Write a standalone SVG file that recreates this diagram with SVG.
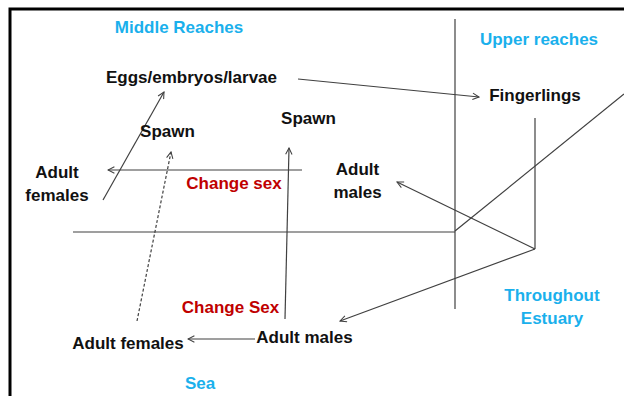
<svg xmlns="http://www.w3.org/2000/svg" width="624" height="396" viewBox="0 0 624 396">
<style>
text{font-family:"Liberation Sans",Arial,sans-serif;font-weight:bold;font-size:17px;text-anchor:middle}
.k{fill:#111}
.b{fill:#1AB0EC}
.r{fill:#C00000}
.ln{stroke:#404040;stroke-width:1.2;fill:none}
.ar{marker-end:url(#ah)}
.ds{stroke-dasharray:3 2}
</style>
<defs>
<marker id="ah" viewBox="0 0 10 10" refX="9" refY="5" markerWidth="8" markerHeight="8" markerUnits="userSpaceOnUse" orient="auto">
<path d="M1,1 L9,5 L1,9" fill="none" stroke="#404040" stroke-width="1.3"/>
</marker>
</defs>
<rect width="624" height="396" fill="#fff"/>
<path d="M10,396 L10,9 L624,9" fill="none" stroke="#000" stroke-width="3"/>
<g id="connectors">
<line class="ln" x1="73" y1="232" x2="455" y2="232"/>
<line class="ln" x1="455" y1="19" x2="455" y2="309"/>
<line class="ln" x1="455" y1="231" x2="624" y2="94"/>
<line class="ln" x1="535" y1="118" x2="535" y2="249"/>
<line class="ln ar" x1="298" y1="79" x2="479" y2="97"/>
<line class="ln ar" x1="103" y1="200" x2="164" y2="92"/>
<line class="ln ar ds" x1="137" y1="321" x2="171" y2="152"/>
<line class="ln ar" x1="285" y1="319" x2="289" y2="148"/>
<line class="ln ar" x1="302" y1="170" x2="108" y2="170"/>
<line class="ln ar" x1="535" y1="249" x2="397" y2="182"/>
<line class="ln ar" x1="535" y1="249" x2="340" y2="321"/>
<line class="ln ar" x1="255" y1="339" x2="188" y2="339"/>
</g>
<g id="middle-reaches"><text class="b" x="179" y="33">Middle Reaches</text></g>
<g id="upper-reaches"><text class="b" x="539" y="45">Upper reaches</text></g>
<g id="eggs"><text class="k" x="191.5" y="83">Eggs/embryos/larvae</text></g>
<g id="fingerlings"><text class="k" x="535" y="101">Fingerlings</text></g>
<g id="spawn1"><text class="k" x="167.5" y="137">Spawn</text></g>
<g id="spawn2"><text class="k" x="308.5" y="124">Spawn</text></g>
<g id="adult-females-mid"><text class="k" x="57" y="178">Adult</text><text class="k" x="57" y="201">females</text></g>
<g id="change-sex-mid"><text class="r" x="234" y="189">Change sex</text></g>
<g id="adult-males-mid"><text class="k" x="357.5" y="175">Adult</text><text class="k" x="357.5" y="198">males</text></g>
<g id="change-sex-sea"><text class="r" x="230.5" y="313">Change Sex</text></g>
<g id="adult-females-sea"><text class="k" x="128" y="349">Adult females</text></g>
<g id="adult-males-sea"><text class="k" x="304.5" y="343">Adult males</text></g>
<g id="sea"><text class="b" x="200" y="389">Sea</text></g>
<g id="throughout-estuary"><text class="b" x="552" y="301">Throughout</text><text class="b" x="552" y="324">Estuary</text></g>
</svg>
